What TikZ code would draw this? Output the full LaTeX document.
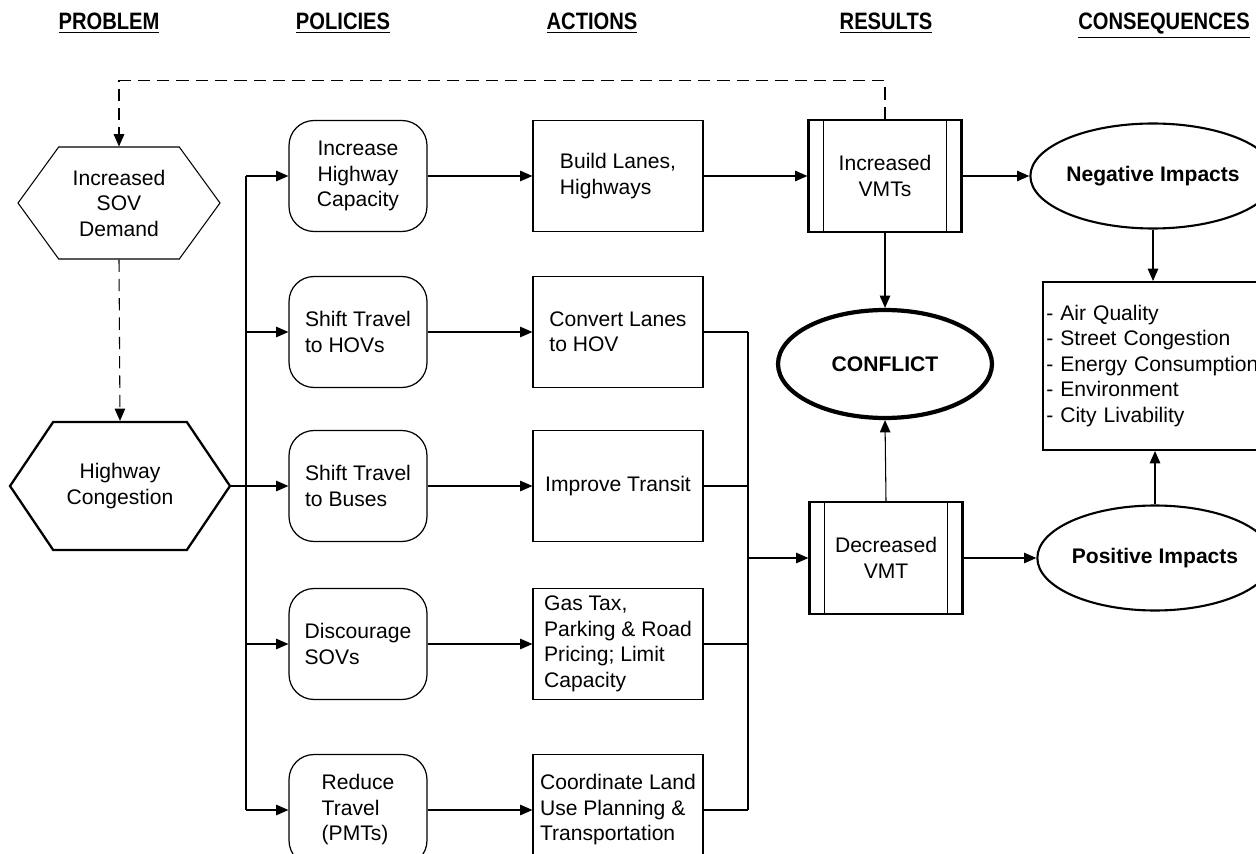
\documentclass[tikz,border=0pt]{standalone}
\usepackage{fontspec}
\setmainfont{Liberation Sans}
\newfontfamily\headfont[FakeStretch=0.85]{Liberation Sans}
\usetikzlibrary{arrows.meta,shapes.geometric,shapes.symbols}

\tikzset{
  txt/.style={font=\fontsize{12}{14.5}\selectfont},
  heading/.style={font=\fontsize{12}{14.5}\selectfont\bfseries},
  colhead/.style={font=\headfont\fontsize{13.5}{16}\selectfont\bfseries, anchor=base, inner sep=0pt},
  link/.style={-{Triangle[length=7pt,width=6pt]}, line width=0.6pt},
  wire/.style={line width=0.6pt},
  hexa/.style={txt, draw, signal, signal to=west and east, signal pointer angle=108,
    align=center, inner sep=1pt},
  policy/.style={txt, draw, line width=0.7pt, rounded corners=0.5cm,
    minimum width=2.76cm, minimum height=2.22cm, align=left},
  action/.style={txt, draw, line width=0.7pt,
    minimum width=3.4cm, minimum height=2.22cm, align=left},
  result/.style={txt, draw, line width=1.3pt, minimum width=3.06cm, minimum height=2.24cm,
    align=center,
    path picture={
      \draw[line width=1pt] ([xshift=0.3cm]path picture bounding box.north west)
        -- ([xshift=0.3cm]path picture bounding box.south west);
      \draw[line width=1pt] ([xshift=-0.3cm]path picture bounding box.north east)
        -- ([xshift=-0.3cm]path picture bounding box.south east);}},
  impact/.style={heading, draw, ellipse, line width=1.2pt,
    minimum width=4.2cm, minimum height=2.1cm, inner sep=0pt},
}

\begin{document}
\begin{tikzpicture}[x=0.02cm, y=-0.02cm]
    \useasboundingbox (0,0) rectangle (1256,854);
    \clip (0,0) rectangle (1256,854);

    % Column headings
    \node[colhead] (hprob) at (109,30) {\underline{PROBLEM}};
    \node[colhead] (hpol)  at (343,30) {\underline{POLICIES}};
    \node[colhead] (hact)  at (592,30) {\underline{ACTIONS}};
    \node[colhead] (hres)  at (886,30) {\underline{RESULTS}};
    \node[colhead] (hcon)  at (1164,30) {\underline{CONSEQUENCES}};

    % Problem
    \node[hexa, line width=0.6pt, minimum width=4.04cm, minimum height=2.24cm]
      (sov) at (119,203) {Increased\\SOV\\Demand};
    \node[hexa, line width=1.3pt, minimum width=4.4cm, minimum height=2.56cm,
      signal pointer angle=112] (hwy) at (120,486) {Highway\\Congestion};

    % Policies
    \node[policy, align=center] (pinc) at (358,176) {Increase\\Highway\\Capacity};
    \node[policy] (phov) at (358,332) {Shift Travel\\to HOVs};
    \node[policy] (pbus) at (358,486) {Shift Travel\\to Buses};
    \node[policy] (psov) at (358,644) {Discourage\\SOVs};
    \node[policy] (pred) at (358,810) {Reduce\\Travel\\(PMTs)};

    % Actions
    \node[action] (abld) at (618,176) {Build Lanes,\\Highways};
    \node[action] (ahov) at (618,332) {Convert Lanes\\to HOV};
    \node[action] (atr)  at (618,486) {Improve Transit};
    \node[action] (agas) at (618,644) {Gas Tax,\\Parking \& Road\\Pricing; Limit\\Capacity};
    \node[action] (acrd) at (618,810) {Coordinate Land\\Use Planning \&\\Transportation};

    % Results
    \node[result] (vmtup) at (885,176) {Increased\\VMTs};
    \node[result] (vmtdn) at (886,558) {Decreased\\VMT};
    \node[heading, draw, ellipse, line width=2.4pt, minimum width=4.28cm,
      minimum height=2.16cm] (conf) at (885,364) {CONFLICT};

    % Consequences
    \node[impact] (neg) at (1153,176) {Negative Impacts};
    \node[impact] (pos) at (1155,558) {Positive Impacts};
    \node[txt, draw, line width=1.2pt, text width=4.55cm, minimum height=3.36cm,
      align=left, inner sep=2pt] (cons) at (1160,366)
      {- Air Quality\\- Street Congestion\\- Energy Consumption\\- Environment\\- City Livability};

    % Feedback loop
    \draw[link, dash pattern=on 7pt off 4pt] (vmtup.north) -- ++(0,-38) -| (sov.north);
    \draw[link, dash pattern=on 7pt off 4pt] (sov.south) -- (hwy.north);

    % Problem to policies
    \coordinate (bus) at (246,176);
    \draw[wire] (bus) -- (bus |- pred.west);
    \draw[wire] (hwy.east) -- (hwy.east -| bus);
    \foreach \p in {pinc,phov,pbus,psov,pred}
      \draw[link] (\p.west -| bus) -- (\p.west);

    % Policies to actions
    \foreach \p/\a in {pinc/abld,phov/ahov,pbus/atr,psov/agas,pred/acrd}
      \draw[link] (\p.east) -- (\a.west);

    % Actions to results
    \coordinate (bus2) at (748,558);
    \draw[link] (abld.east) -- (vmtup.west);
    \foreach \a in {ahov,atr,agas,acrd}
      \draw[wire] (\a.east) -- (\a.east -| bus2);
    \draw[wire] (ahov.east -| bus2) -- (acrd.east -| bus2);
    \draw[link] (bus2) -- (vmtdn.west);

    % Results to consequences
    \draw[link] (vmtup.south) -- (conf.north);
    \draw[link] (vmtdn.north) -- (conf.south);
    \draw[link] (vmtup.east) -- (neg.west);
    \draw[link] (vmtdn.east) -- (pos.west);
    \draw[link] (neg.south) -- (cons.north -| neg.south);
    \draw[link] (pos.north) -- (cons.south -| pos.north);
\end{tikzpicture}
\end{document}
